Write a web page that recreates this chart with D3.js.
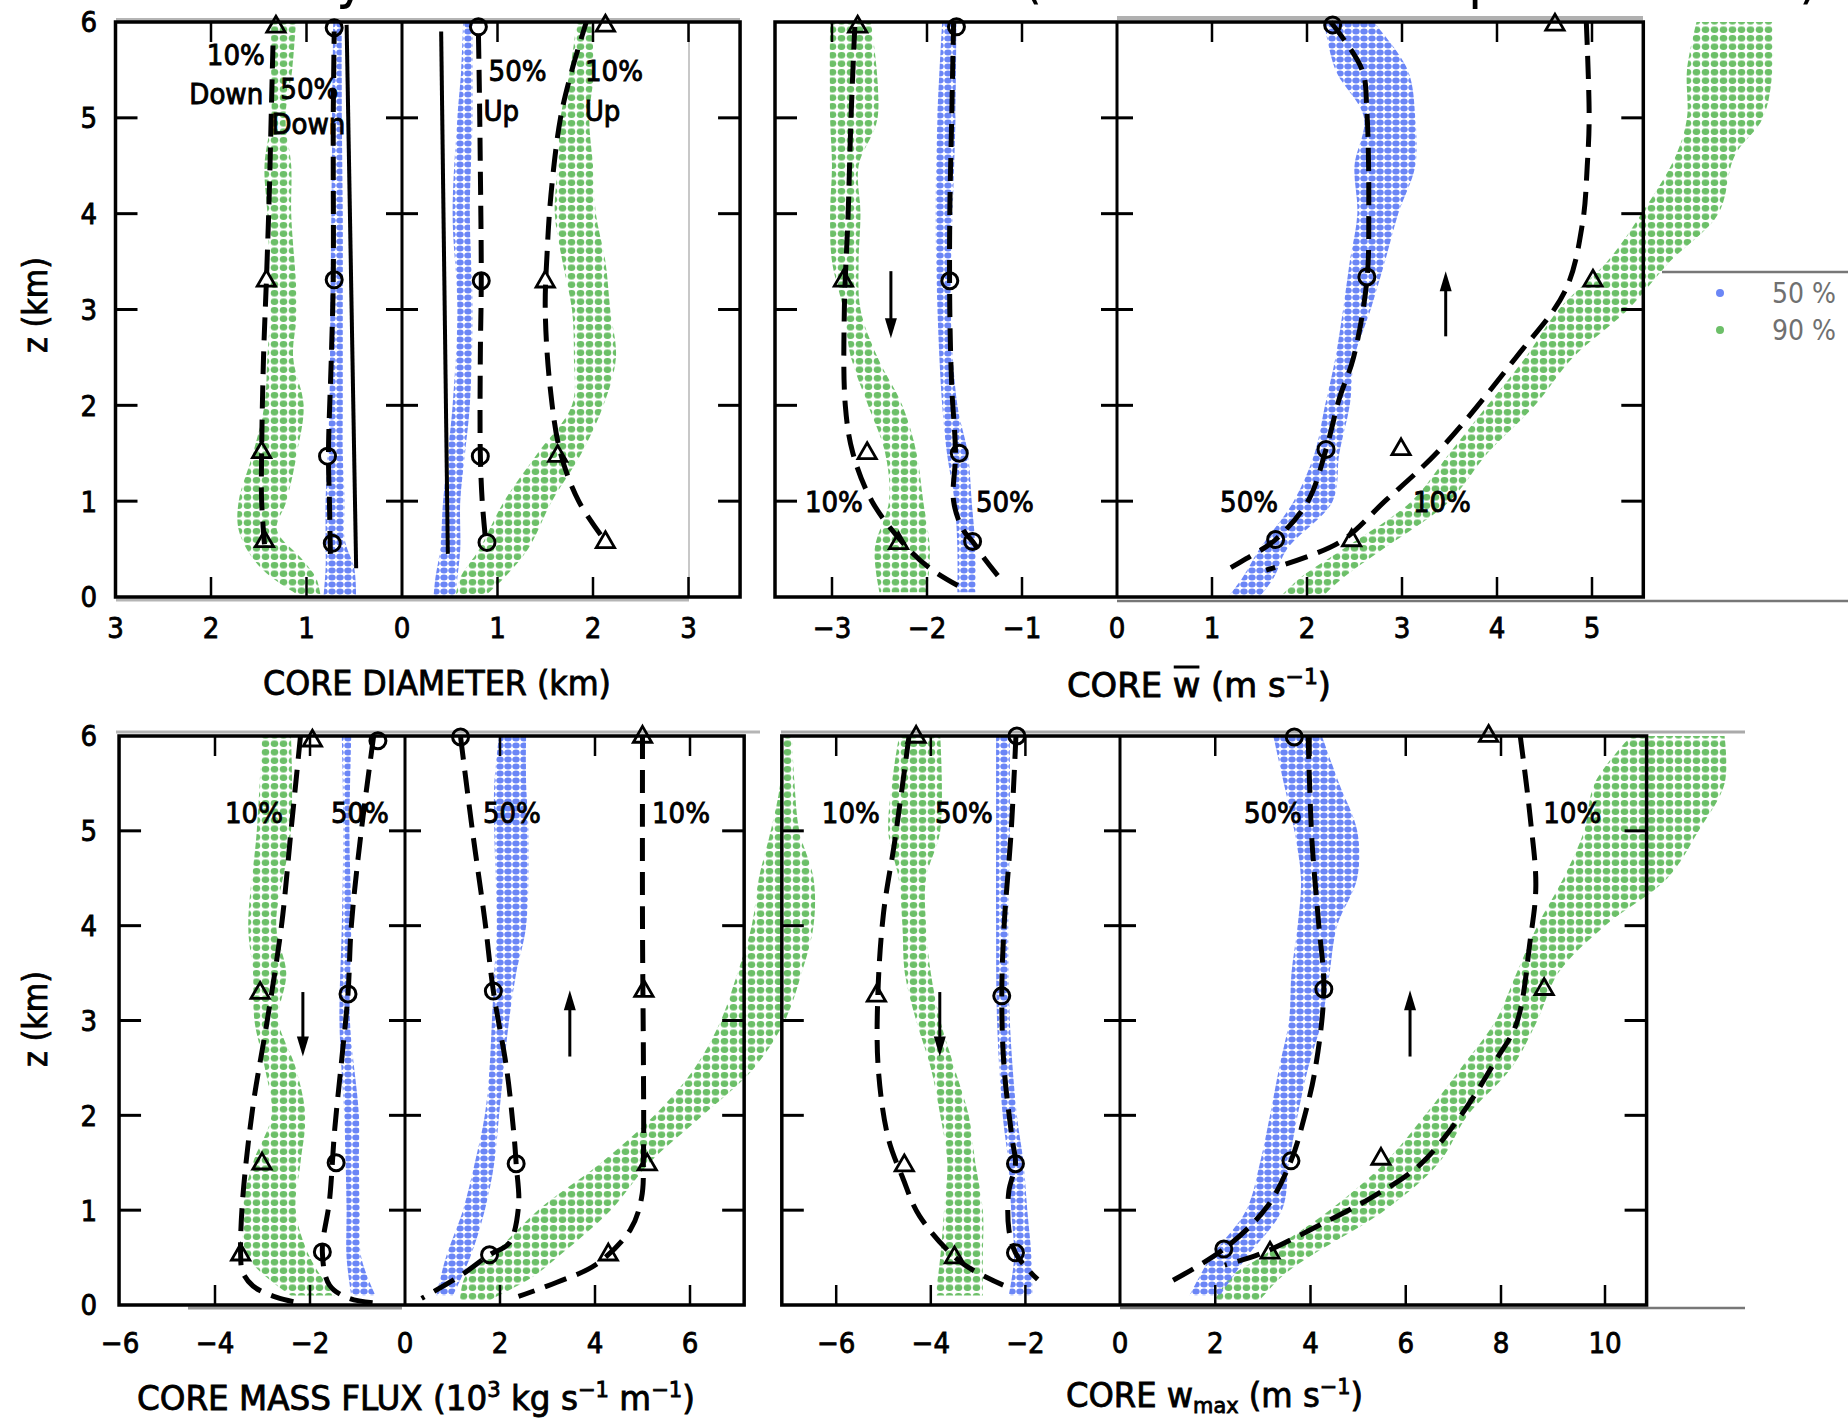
<!DOCTYPE html>
<html>
<head>
<meta charset="utf-8">
<script src="https://cdn.jsdelivr.net/npm/d3@7"></script>
<style>
  body { margin: 0; background: #fff; }
  svg { display: block; }
  text { font-family: "DejaVu Sans Condensed", "Liberation Sans Narrow", "DejaVu Sans", sans-serif; }
</style>
</head>
<body>
<div id="chart"></div>
<script>
'use strict';

// ---- data (z in km, values in panel units) ----
// bands: [z, low, high]   curves / marks: [value, z]
const zTickVals = [1, 2, 3, 4, 5];
const zLabelVals = [0, 1, 2, 3, 4, 5, 6];

// core diameter, downdrafts
const diamDownBlue = [[0.02,0.48,0.82],[0.3,0.5,0.8],[0.6,0.6,0.8],[1,0.6,0.8],[1.5,0.62,0.78],[2,0.62,0.76],[3,0.62,0.75],[4,0.62,0.74],[5,0.63,0.73],[6,0.63,0.72]];
const diamDownGreen = [[0,0.85,1.05],[0.2,0.9,1.36],[0.4,1.05,1.56],[0.7,1.31,1.71],[1,1.21,1.71],[1.5,1.1,1.56],[2,1.03,1.44],[2.5,1.14,1.41],[3,1.1,1.38],[4,1.16,1.41],[4.5,1.16,1.44],[5,1.22,1.37],[5.5,1.15,1.37],[6,1.11,1.37]];
const diamDownSolid = [[0.48,0.3],[0.58,5.97]];
const diamDown10 = [[1.44,0.55],[1.47,1.0],[1.47,1.5],[1.45,2.5],[1.42,3.3],[1.39,4.2],[1.37,5.0],[1.35,5.8]];
const diamDown10Marks = [[1.44,0.58],[1.47,1.51],[1.42,3.3],[1.32,5.95]];
const diamDown50 = [[0.75,0.45],[0.76,1.0],[0.77,1.5],[0.74,2.5],[0.72,3.3],[0.72,4.5],[0.72,5.0],[0.71,5.9]];
const diamDown50Marks = [[0.73,0.56],[0.78,1.47],[0.71,3.31],[0.71,5.94]];
const diamDownNotes = [["10%",1.74,5.66],["Down",1.84,5.25],["50%",0.97,5.31],["Down",0.98,4.94]];

// core diameter, updrafts
const diamUpBlue = [[0,0.33,0.56],[0.2,0.35,0.58],[0.5,0.4,0.61],[1,0.43,0.61],[1.5,0.48,0.66],[2,0.53,0.71],[3,0.58,0.74],[4,0.53,0.71],[5,0.58,0.74],[5.5,0.62,0.74],[6,0.64,0.74]];
const diamUpGreen = [[0,0.56,0.86],[0.2,0.61,1.07],[0.5,0.81,1.32],[1,1.07,1.57],[1.5,1.42,1.88],[2,1.78,2.11],[2.5,1.8,2.24],[3,1.78,2.18],[3.5,1.68,2.13],[4,1.6,2.03],[4.5,1.63,2.0],[5,1.66,1.96],[5.5,1.76,2.01],[6,1.83,1.98]];
const diamUpSolid = [[0.48,0.45],[0.41,5.9]];
const diamUp50 = [[0.87,0.65],[0.84,1.0],[0.82,1.5],[0.82,2.5],[0.83,3.3],[0.82,4.5],[0.81,5.3],[0.8,5.9]];
const diamUp50Marks = [[0.89,0.57],[0.82,1.47],[0.83,3.3],[0.8,5.95]];
const diamUp10 = [[2.08,0.65],[1.85,1.0],[1.66,1.5],[1.55,2.2],[1.5,3.0],[1.52,3.6],[1.56,4.2],[1.66,5.0],[1.78,5.5],[1.93,6.0]];
const diamUp10Marks = [[2.13,0.57],[1.63,1.47],[1.5,3.29],[2.13,5.96]];
const diamUpNotes = [["50%",1.21,5.49],["Up",1.04,5.08],["10%",2.22,5.49],["Up",2.1,5.08]];

// core mean w, downdrafts
const wDownBlue = [[0.05,-1.68,-1.49],[0.5,-1.68,-1.49],[1,-1.71,-1.53],[1.5,-1.79,-1.57],[2,-1.84,-1.68],[3,-1.89,-1.75],[4,-1.91,-1.73],[5,-1.89,-1.7],[6,-1.84,-1.69]];
const wDownGreen = [[0.05,-2.5,-2.0],[0.5,-2.55,-1.97],[1,-2.4,-2.04],[1.5,-2.44,-2.11],[2,-2.62,-2.26],[2.5,-2.8,-2.52],[3,-2.88,-2.7],[3.5,-3.0,-2.72],[4,-3.02,-2.7],[4.5,-3.0,-2.72],[5,-3.02,-2.52],[6,-3.02,-2.59]];
const wDown10 = [[-2.76,5.95],[-2.8,5.0],[-2.83,4.0],[-2.87,3.0],[-2.86,2.0],[-2.78,1.5],[-2.58,1.0],[-2.25,0.56],[-1.97,0.3],[-1.64,0.1]];
const wDown10Marks = [[-2.73,5.95],[-2.88,3.3],[-2.63,1.5],[-2.3,0.56]];
const wDown50 = [[-1.72,6.0],[-1.74,5.0],[-1.76,4.0],[-1.76,3.0],[-1.74,2.2],[-1.7,1.5],[-1.72,1.0],[-1.62,0.7],[-1.52,0.58],[-1.38,0.38],[-1.22,0.18]];
const wDown50Marks = [[-1.69,5.95],[-1.76,3.3],[-1.66,1.5],[-1.52,0.58]];
const wDownNotes = [["10%",-2.98,1.0],["50%",-1.18,1.0]];
const wDownArrow = [-2.38,3.4,2.7];

// core mean w, updrafts
const wUpBlue = [[0,1.17,1.5],[0.2,1.32,1.65],[0.5,1.5,1.79],[1,1.86,2.27],[1.5,2.08,2.34],[2,2.19,2.45],[2.5,2.3,2.5],[3,2.38,2.67],[3.5,2.45,2.82],[4,2.53,2.96],[4.5,2.5,3.14],[5,2.6,3.14],[5.5,2.3,3.06],[6,2.18,2.7]];
const wUpGreen = [[0,1.72,2.16],[0.2,1.93,2.38],[0.5,2.38,2.8],[1,3.1,3.5],[1.5,3.5,3.9],[2,3.9,4.4],[2.5,4.3,4.8],[3,4.65,5.38],[3.5,5.16,5.82],[4,5.52,6.33],[4.6,5.88,6.5],[5,6.0,6.8],[5.5,6.0,6.9],[6,6.1,6.9]];
const wUp50 = [[2.25,6.0],[2.58,5.5],[2.63,5.07],[2.65,4.0],[2.63,3.3],[2.49,2.5],[2.34,2.07],[2.2,1.54],[2.01,1.0],[1.67,0.6],[1.36,0.4],[1.1,0.25]];
const wUp50Marks = [[2.27,5.97],[2.63,3.34],[2.2,1.54],[1.67,0.6]];
const wUp10 = [[4.94,6.0],[4.97,5.0],[4.95,4.5],[4.9,3.9],[4.72,3.2],[4.2,2.5],[3.4,1.54],[2.82,1.0],[2.34,0.57],[1.57,0.28]];
const wUp10Marks = [[4.61,5.97],[5.01,3.3],[2.99,1.54],[2.47,0.59]];
const wUpNotes = [["50%",1.39,1.0],["10%",3.42,1.0]];
const wUpArrow = [3.46,2.72,3.4];

// core mass flux, downdrafts
const fluxDownBlue = [[0.1,-1.13,-0.62],[0.5,-1.23,-0.92],[1,-1.23,-0.95],[1.5,-1.25,-0.97],[2,-1.28,-0.97],[3,-1.38,-1.16],[4,-1.33,-1.13],[5,-1.3,-1.17],[6,-1.33,-1.13]];
const fluxDownGreen = [[0.1,-2.4,-1.48],[0.5,-3.3,-2.0],[1,-3.42,-2.3],[1.5,-3.2,-2.2],[2,-2.81,-2.1],[2.5,-2.95,-2.3],[3,-3.17,-2.66],[3.5,-3.2,-2.5],[4,-3.3,-2.71],[5,-3.12,-2.4],[6,-3.01,-2.4]];
const fluxDown10 = [[-2.2,6.0],[-2.4,5.0],[-2.6,4.0],[-2.9,3.0],[-3.2,2.1],[-3.42,1.1],[-3.46,0.53],[-3.42,0.35],[-3.2,0.2],[-2.7,0.08],[-2.2,0.02]];
const fluxDown10Marks = [[-1.95,5.95],[-3.05,3.29],[-3.01,1.49],[-3.46,0.53]];
const fluxDown50 = [[-0.66,6.0],[-0.92,5.0],[-1.13,4.0],[-1.2,3.28],[-1.33,2.6],[-1.48,1.85],[-1.59,1.1],[-1.74,0.56],[-1.59,0.21],[-1.18,0.07],[-0.62,0.02]];
const fluxDown50Marks = [[-0.57,5.95],[-1.2,3.28],[-1.45,1.5],[-1.74,0.56]];
const fluxDownNotes = [["10%",-3.18,5.19],["50%",-0.95,5.19]];
const fluxDownArrow = [-2.15,3.3,2.62];

// core mass flux, updrafts
const fluxUpBlue = [[0.1,0.66,1.01],[0.5,0.86,1.37],[1,1.22,1.68],[1.5,1.47,1.88],[2,1.68,1.98],[2.5,1.78,2.08],[3,1.83,2.19],[3.5,1.88,2.34],[4,1.93,2.55],[5,1.88,2.6],[5.5,1.88,2.55],[6,1.98,2.55]];
const fluxUpGreen = [[0.05,1.16,1.78],[0.3,1.27,2.7],[0.5,1.78,3.2],[1,2.8,4.33],[1.5,4.13,5.15],[2,5.25,6.27],[2.5,6.1,7.35],[3,6.65,8.0],[3.5,7.0,8.35],[4,7.3,8.6],[4.5,7.45,8.6],[5,7.7,8.3],[5.5,7.9,8.2],[6,7.95,8.15]];
const fluxUp50 = [[1.17,5.99],[1.42,5.0],[1.68,4.06],[1.86,3.31],[2.14,2.49],[2.3,1.76],[2.34,1.49],[2.39,1.04],[2.19,0.65],[1.78,0.53],[1.17,0.31],[0.35,0.07]];
const fluxUp50Marks = [[1.17,5.99],[1.86,3.31],[2.34,1.49],[1.78,0.53]];
const fluxUp10 = [[5.0,6.0],[5.0,4.0],[5.02,2.5],[5.02,1.6],[4.98,1.13],[4.74,0.79],[4.03,0.43],[3.2,0.24],[2.39,0.09]];
const fluxUp10Marks = [[5.0,5.99],[5.03,3.31],[5.1,1.48],[4.28,0.53]];
const fluxUpNotes = [["50%",2.25,5.19],["10%",5.81,5.19]];
const fluxUpArrow = [3.47,2.62,3.32];

// core w max, downdrafts
const wmaxDownBlue = [[0.1,-2.35,-1.85],[0.5,-2.24,-1.87],[1,-2.3,-1.96],[1.5,-2.36,-2.04],[2,-2.48,-2.18],[3,-2.6,-2.33],[4,-2.62,-2.36],[5,-2.62,-2.33],[6,-2.62,-2.33]];
const wmaxDownGreen = [[0.1,-3.9,-2.9],[0.5,-3.8,-2.9],[1,-3.72,-2.9],[1.5,-3.65,-3.06],[2,-3.8,-3.2],[2.5,-4.0,-3.5],[3,-4.31,-3.8],[3.5,-4.55,-4.0],[4,-4.6,-4.1],[4.5,-4.68,-4.1],[5,-4.9,-3.8],[6,-4.67,-3.8]];
const wmaxDown10 = [[-4.46,6.0],[-4.76,4.9],[-5.0,4.13],[-5.12,3.26],[-5.11,2.49],[-4.9,1.76],[-4.6,1.35],[-4.24,0.94],[-3.36,0.45],[-2.47,0.21]];
const wmaxDown10Marks = [[-4.31,5.99],[-5.15,3.26],[-4.56,1.47],[-3.5,0.5]];
const wmaxDown50 = [[-2.2,6.0],[-2.3,5.0],[-2.45,4.0],[-2.5,3.26],[-2.45,2.5],[-2.28,1.75],[-2.21,1.49],[-2.35,1.2],[-2.35,0.8],[-2.21,0.55],[-1.9,0.35],[-1.74,0.27]];
const wmaxDown50Marks = [[-2.18,6.0],[-2.5,3.26],[-2.21,1.49],[-2.21,0.55]];
const wmaxDownNotes = [["10%",-5.69,5.19],["50%",-3.3,5.19]];
const wmaxDownArrow = [-3.81,3.3,2.62];

// core w max, updrafts
const wmaxUpBlue = [[0.1,1.46,2.1],[0.5,1.9,2.65],[1,2.65,3.4],[1.5,2.94,3.55],[2,3.15,3.73],[2.5,3.34,3.95],[3,3.55,4.24],[3.5,3.6,4.4],[4,3.73,4.56],[4.5,3.8,4.98],[5,3.66,4.98],[5.5,3.44,4.6],[6,3.22,4.24]];
const wmaxUpGreen = [[0.05,1.99,2.93],[0.3,2.33,3.4],[0.5,2.94,3.95],[1,4.4,5.56],[1.5,5.56,6.7],[2,6.4,7.3],[2.5,7.16,8.2],[3,7.89,8.7],[3.5,8.3,9.1],[4,8.7,10.0],[4.5,9.2,11.2],[5,9.6,11.8],[5.5,9.8,12.3],[6,10.5,12.3]];
const wmaxUp50 = [[3.95,6.0],[4.03,4.9],[4.17,4.03],[4.28,3.33],[4.1,2.49],[3.88,2.0],[3.59,1.52],[3.08,1.03],[2.18,0.59],[1.04,0.24]];
const wmaxUp50Marks = [[3.66,5.99],[4.28,3.33],[3.59,1.52],[2.18,0.59]];
const wmaxUp10 = [[8.37,6.0],[8.56,5.15],[8.67,4.42],[8.56,3.84],[8.3,2.97],[7.89,2.58],[7.16,2.0],[6.28,1.47],[5.27,1.13],[4.1,0.82],[3.0,0.55],[2.2,0.42]];
const wmaxUp10Marks = [[7.74,6.0],[8.83,3.33],[5.48,1.54],[3.15,0.55]];
const wmaxUpNotes = [["50%",3.21,5.19],["10%",9.37,5.19]];
const wmaxUpArrow = [6.09,2.62,3.32];

const legendItems = ["50 %", "90 %"];

// ---- layout ----
const W = 1848, H = 1422;
const blue = "#6b86f6", green = "#6cbf68";

const svg = d3.select("#chart").append("svg")
  .attr("width", W).attr("height", H);

const defs = svg.append("defs");
defs.append("pattern").attr("id", "blueDots")
  .attr("patternUnits", "userSpaceOnUse").attr("width", 8).attr("height", 7)
  .append("ellipse").attr("cx", 4).attr("cy", 3.5).attr("rx", 3.7).attr("ry", 2.9)
  .attr("fill", blue);
defs.append("pattern").attr("id", "greenDots")
  .attr("patternUnits", "userSpaceOnUse").attr("width", 9).attr("height", 8.5)
  .append("ellipse").attr("cx", 4.5).attr("cy", 4.25).attr("rx", 3.8).attr("ry", 3.3)
  .attr("fill", green);

const yScales = {
  top: d3.scaleLinear().domain([0, 6]).range([597, 22]),
  bottom: d3.scaleLinear().domain([0, 6]).range([1305, 736])
};

const panels = [
  {row:"top", domain:[3,0], range:[115.5,402], edge:3, ticks:[2,1], tickLabels:[3,2,1,0],
   blue:diamDownBlue, green:diamDownGreen, solid:diamDownSolid,
   curves:[diamDown10, diamDown50], tri:diamDown10Marks, circ:diamDown50Marks, notes:diamDownNotes},
  {row:"top", domain:[0,3], range:[402,688.5], edge:3.54, ticks:[1,2,3], tickLabels:[1,2,3],
   blue:diamUpBlue, green:diamUpGreen, solid:diamUpSolid,
   curves:[diamUp10, diamUp50], tri:diamUp10Marks, circ:diamUp50Marks, notes:diamUpNotes},
  {row:"top", domain:[-3,0], range:[832,1117], edge:-3.6, ticks:[-3,-2,-1], tickLabels:[-3,-2,-1,0],
   blue:wDownBlue, green:wDownGreen,
   curves:[wDown10, wDown50], tri:wDown10Marks, circ:wDown50Marks, notes:wDownNotes, arrow:wDownArrow},
  {row:"top", domain:[0,5], range:[1117,1592], edge:5.54, ticks:[1,2,3,4,5], tickLabels:[1,2,3,4,5],
   blue:wUpBlue, green:wUpGreen,
   curves:[wUp10, wUp50], tri:wUp10Marks, circ:wUp50Marks, notes:wUpNotes, arrow:wUpArrow},
  {row:"bottom", domain:[-6,0], range:[120,405], edge:-6.02, ticks:[-4,-2], tickLabels:[-6,-4,-2,0],
   blue:fluxDownBlue, green:fluxDownGreen,
   curves:[fluxDown10, fluxDown50], tri:fluxDown10Marks, circ:fluxDown50Marks, notes:fluxDownNotes, arrow:fluxDownArrow},
  {row:"bottom", domain:[0,6], range:[405,690], edge:7.14, ticks:[2,4,6], tickLabels:[2,4,6],
   blue:fluxUpBlue, green:fluxUpGreen,
   curves:[fluxUp10, fluxUp50], tri:fluxUp10Marks, circ:fluxUp50Marks, notes:fluxUpNotes, arrow:fluxUpArrow},
  {row:"bottom", domain:[-6,0], range:[836.2,1120], edge:-7.15, ticks:[-6,-4,-2], tickLabels:[-6,-4,-2,0],
   blue:wmaxDownBlue, green:wmaxDownGreen,
   curves:[wmaxDown10, wmaxDown50], tri:wmaxDown10Marks, circ:wmaxDown50Marks, notes:wmaxDownNotes, arrow:wmaxDownArrow},
  {row:"bottom", domain:[0,8,10], range:[1120,1501,1605], edge:10.8, ticks:[2,4,6,8,10], tickLabels:[2,4,6,8,10],
   blue:wmaxUpBlue, green:wmaxUpGreen,
   curves:[wmaxUp10, wmaxUp50], tri:wmaxUp10Marks, circ:wmaxUp50Marks, notes:wmaxUpNotes, arrow:wmaxUpArrow}
];
panels.forEach(p => { p.x = d3.scaleLinear().domain(p.domain).range(p.range); p.y = yScales[p.row]; });

const pairs = [[0,1],[2,3],[4,5],[6,7]];
const fmt = v => v < 0 ? "\u2212" + Math.abs(v) : String(v);

// grey frame lines left by the overlay plot
const grey = svg.append("g").attr("fill", "none");
[[116,20,740,20,"#b5b5b5",4],[689,20,689,598,"#c8c8c8",2],[116,600,689,600,"#b5b5b5",3],
 [1117,18,1643,18,"#b0b0b0",4],[1117,601,1848,601,"#777",2.5],[1662,272,1848,272,"#777",2.5],
 [116,732,760,732,"#b5b5b5",3],[188,1308,402,1308,"#999",3],
 [781,732,1745,732,"#aaa",3],[1120,1308,1745,1308,"#777",2.5]]
  .forEach(l => grey.append("line")
    .attr("x1", l[0]).attr("y1", l[1]).attr("x2", l[2]).attr("y2", l[3])
    .attr("stroke", l[4]).attr("stroke-width", l[5]));

// scatter bands
const bands = svg.append("g");
function drawBand(p, data, fill){
  const area = d3.area()
    .curve(d3.curveCatmullRom.alpha(0.5))
    .y(d => p.y(d[0]))
    .x0(d => p.x(d[1]))
    .x1(d => p.x(d[2]));
  bands.append("path").attr("d", area(data)).attr("fill", fill);
}
panels.forEach(p => drawBand(p, p.green, "url(#greenDots)"));
panels.forEach(p => drawBand(p, p.blue, "url(#blueDots)"));

// frames and ticks
const frames = svg.append("g").attr("stroke", "#000").attr("fill", "none");
pairs.forEach(pr => {
  const a = panels[pr[0]], b = panels[pr[1]], y = a.y;
  const xl = a.x(a.edge), xm = a.x(0), xr = b.x(b.edge);
  frames.append("rect")
    .attr("x", xl).attr("y", y(6)).attr("width", xr - xl).attr("height", y(0) - y(6))
    .attr("stroke-width", 3.5);
  frames.append("line").attr("x1", xm).attr("x2", xm).attr("y1", y(6)).attr("y2", y(0))
    .attr("stroke-width", 3);
  zTickVals.forEach(z => {
    frames.append("line").attr("x1", xl).attr("x2", xl + 22).attr("y1", y(z)).attr("y2", y(z)).attr("stroke-width", 3);
    frames.append("line").attr("x1", xr - 22).attr("x2", xr).attr("y1", y(z)).attr("y2", y(z)).attr("stroke-width", 3);
    frames.append("line").attr("x1", xm - 16).attr("x2", xm + 16).attr("y1", y(z)).attr("y2", y(z)).attr("stroke-width", 3);
  });
  [a, b].forEach(p => p.ticks.forEach(t => {
    frames.append("line").attr("x1", p.x(t)).attr("x2", p.x(t)).attr("y1", y(0)).attr("y2", y(0) - 20).attr("stroke-width", 2.5);
    frames.append("line").attr("x1", p.x(t)).attr("x2", p.x(t)).attr("y1", y(6)).attr("y2", y(6) + 20).attr("stroke-width", 2.5);
  }));
});

// tick labels
const labels = svg.append("g").attr("fill", "#000").attr("stroke", "#000").attr("stroke-width", 0.8)
  .attr("font-size", 29);
panels.forEach(p => {
  labels.selectAll(null).data(p.tickLabels).enter().append("text")
    .attr("x", d => p.x(d)).attr("y", p.y(0) + (p.row === "top" ? 41 : 48))
    .attr("text-anchor", "middle").text(fmt);
});
["top", "bottom"].forEach(r => {
  labels.selectAll(null).data(zLabelVals).enter().append("text")
    .attr("x", 97).attr("y", d => yScales[r](d)).attr("dy", "0.36em")
    .attr("text-anchor", "end").text(d => d);
  labels.append("text")
    .attr("transform", "translate(47," + (r === "top" ? 305 : 1019) + ") rotate(-90)")
    .attr("text-anchor", "middle").attr("font-size", 33)
    .attr("textLength", 96).attr("lengthAdjust", "spacingAndGlyphs").text("z (km)");
});

// reference curves, markers, notes, arrows
const ink = svg.append("g");
const line = d3.line().curve(d3.curveCatmullRom.alpha(0.5));
panels.forEach(p => {
  const pt = d => [p.x(d[0]), p.y(d[1])];
  if (p.solid) {
    ink.append("path").attr("d", line(p.solid.map(pt)))
      .attr("fill", "none").attr("stroke", "#000").attr("stroke-width", 4);
  }
  p.curves.forEach(c => {
    ink.append("path").attr("d", line(c.map(pt)))
      .attr("fill", "none").attr("stroke", "#000").attr("stroke-width", 5)
      .attr("stroke-dasharray", "23 11");
  });
  ink.selectAll(null).data(p.circ).enter().append("circle")
    .attr("cx", d => p.x(d[0])).attr("cy", d => p.y(d[1])).attr("r", 8)
    .attr("fill", "none").attr("stroke", "#000").attr("stroke-width", 3);
  ink.selectAll(null).data(p.tri).enter().append("path")
    .attr("d", d3.symbol(d3.symbolTriangle, 145))
    .attr("transform", d => "translate(" + p.x(d[0]) + "," + p.y(d[1]) + ")")
    .attr("fill", "none").attr("stroke", "#000").attr("stroke-width", 2.8);
  ink.selectAll(null).data(p.notes).enter().append("text")
    .attr("x", d => p.x(d[1])).attr("y", d => p.y(d[2])).attr("dy", "0.36em")
    .attr("text-anchor", "middle").attr("font-size", 29)
    .attr("stroke", "#000").attr("stroke-width", 0.9).text(d => d[0]);
  if (p.arrow) {
    const ax = p.x(p.arrow[0]), y0 = p.y(p.arrow[1]), y1 = p.y(p.arrow[2]);
    const dir = y1 > y0 ? 1 : -1;
    ink.append("line").attr("x1", ax).attr("x2", ax).attr("y1", y0).attr("y2", y1 - dir * 14)
      .attr("stroke", "#000").attr("stroke-width", 3);
    ink.append("path")
      .attr("d", "M" + (ax - 6) + "," + (y1 - dir * 20) + "L" + ax + "," + y1 + "L" + (ax + 6) + "," + (y1 - dir * 20) + "Z")
      .attr("fill", "#000");
  }
});

// axis titles
function title(x, y, len, parts){
  const t = svg.append("text").attr("x", x).attr("y", y).attr("font-size", 34)
    .attr("stroke", "#000").attr("stroke-width", 0.8)
    .attr("textLength", len).attr("lengthAdjust", "spacingAndGlyphs");
  parts.forEach(s => t.append("tspan").attr("dy", s[1] || 0).attr("font-size", s[2] || 34).text(s[0]));
  return t;
}
title(263, 695, 348, [["CORE DIAMETER (km)"]]);
const wbar = title(1067, 697, 264, [["CORE w (m s"], ["\u22121", -13, 22], [")", 13]]);
const ext = wbar.node().getExtentOfChar(5);
svg.append("line").attr("x1", ext.x + 1).attr("x2", ext.x + ext.width - 1)
  .attr("y1", ext.y + 2).attr("y2", ext.y + 2).attr("stroke", "#000").attr("stroke-width", 3);
title(137, 1410, 558, [["CORE MASS FLUX (10"], ["3", -13, 22], [" kg s", 13], ["\u22121", -13, 22], [" m", 13], ["\u22121", -13, 22], [")", 13]]);
title(1066, 1407, 297, [["CORE  w"], ["max", 6, 22], [" (m s", -6], ["\u22121", -13, 22], [")", 13]]);

// clipped title fragments along the top edge
svg.append("g").attr("font-size", 58).attr("font-family", "Liberation Sans, Arial, sans-serif")
  .selectAll(null).data([["y", 336], ["(", 1022], ["p", 1468], [")", 1799]]).enter()
  .append("text").attr("x", d => d[1]).attr("y", -3).text(d => d[0]);

// legend
const legend = svg.append("g").attr("font-family", "Liberation Sans, Arial, sans-serif");
legend.selectAll("circle").data(legendItems).enter().append("circle")
  .attr("cx", 1720).attr("cy", (d, i) => 293 + i * 37).attr("r", 4)
  .attr("fill", (d, i) => i === 0 ? blue : green);
legend.selectAll("text").data(legendItems).enter().append("text")
  .attr("x", 1772).attr("y", (d, i) => 293 + i * 37).attr("dy", "0.36em")
  .attr("font-size", 28).attr("fill", "#707070").text(d => d);
</script>
</body>
</html>
